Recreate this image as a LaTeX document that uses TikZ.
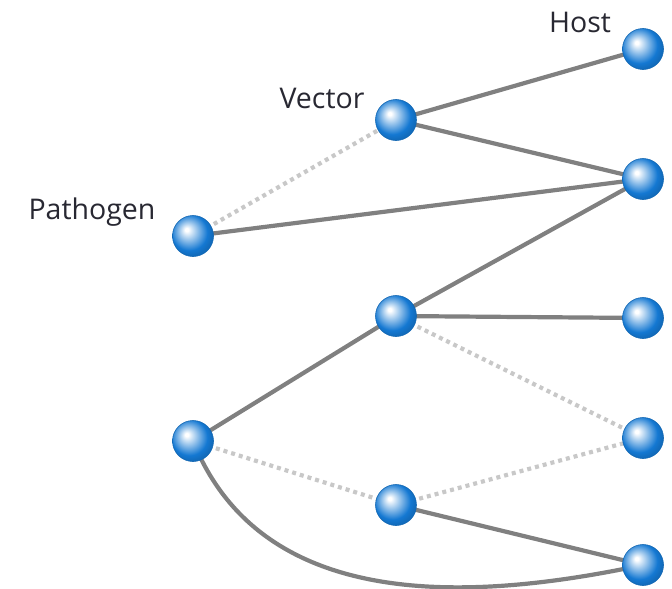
\documentclass[tikz,border=0pt]{standalone}
\usepackage{fontspec}
\setmainfont{Open Sans}
\usetikzlibrary{backgrounds}
\definecolor{ballblue}{RGB}{20,120,210}
\definecolor{edgegray}{RGB}{128,128,128}
\definecolor{dotgray}{RGB}{200,200,200}
\definecolor{labeltext}{RGB}{40,40,50}
\pgfdeclareradialshading{lightball}{\pgfqpoint{-8bp}{8bp}}{%
  color(0bp)=(white); color(2bp)=(white);
  color(13bp)=(ballblue!55!white);
  color(22bp)=(ballblue);
  color(27bp)=(ballblue!90!black);
  color(50bp)=(ballblue!80!black)}
\tikzset{
  sphere/.style={circle, minimum size=41pt, inner sep=0pt, shading=lightball, draw=ballblue!85!black, line width=0.6pt},
  link/.style={draw=edgegray, line width=4.2pt},
  weak/.style={draw=dotgray, line width=4.2pt, dash pattern=on 4pt off 4pt},
  lbl/.style={font=\fontsize{28.5}{32}\selectfont, text=labeltext, inner sep=0pt}
}
\begin{document}
\begin{tikzpicture}[x=1pt,y=-1pt]
\useasboundingbox (0,0) rectangle (672,589);
% pathogens
\node[sphere] (p1) at (193,236) {};
\node[sphere] (p2) at (193,441) {};
% vectors
\node[sphere] (v1) at (396,120) {};
\node[sphere] (v2) at (396,316) {};
\node[sphere] (v3) at (396,505) {};
% hosts
\node[sphere] (h1) at (643,49) {};
\node[sphere] (h2) at (643,179) {};
\node[sphere] (h3) at (643,318) {};
\node[sphere] (h4) at (643,438) {};
\node[sphere] (h5) at (643,565) {};
% labels
\node[lbl] (lhost) at (580,22) {Host};
\node[lbl] (lvec) at (322,98) {Vector};
\node[lbl] (lpath) at (92,212) {Pathogen};
\begin{scope}[on background layer]
\draw[weak] (p1.center) -- (v1.center);
\draw[link] (v1.center) -- (h1.center);
\draw[link] (v1.center) -- (h2.center);
\draw[link] (p1.center) -- (h2.center);
\draw[link] (v2.center) -- (h2.center);
\draw[link] (v2.center) -- (h3.center);
\draw[weak] (v2.center) -- (h4.center);
\draw[link] (p2.center) -- (v2.center);
\draw[weak] (p2.center) -- (v3.center);
\draw[weak] (v3.center) -- (h4.center);
\draw[link] (v3.center) -- (h5.center);
\draw[link] (p2.center) to[out=-68,in=192] (h5.center);
\end{scope}
\end{tikzpicture}
\end{document}
